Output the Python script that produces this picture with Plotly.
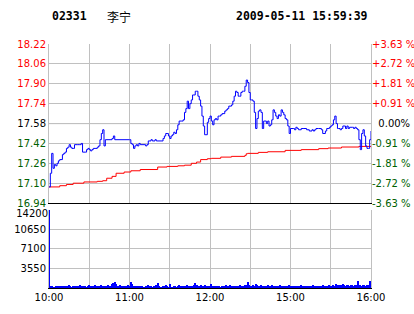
import plotly.graph_objects as go

# ---------------- data ----------------
stock_code = "02331"
stock_name = "李宁"
timestamp = "2009-05-11 15:59:39"
prev_close = 17.58

time_ticks = [0, 30, 60, 90, 120, 150, 180, 210, 240]
time_labels = ["10:00", "", "11:00", "", "12:00", "", "15:00", "", "16:00"]

price_ticks = [18.22, 18.06, 17.90, 17.74, 17.58, 17.42, 17.26, 17.10, 16.94]
price_labels = ["18.22", "18.06", "17.90", "17.74", "17.58", "17.42", "17.26", "17.10", "16.94"]
pct_labels = ["+3.63 %", "+2.72 %", "+1.81 %", "+0.91 %", "\u00a0\u00a00.00%",
              "-0.91 %", "-1.81 %", "-2.72 %", "-3.63 %"]

vol_ticks = [3550, 7100, 10650]
vol_labels = ["3550", "7100", "10650"]
vol_top = 14200
vol_top_label = "14200"

price_min = [0, 1, 2, 3, 4, 5, 6, 7, 8, 10, 11, 12, 13, 14, 15, 16, 17, 18, 19, 21, 23, 24, 25, 27,
             28, 29, 30, 31, 32, 33, 35, 36, 37, 38, 39, 40, 41, 42, 44, 47, 48, 49, 60, 61, 62, 63,
             64, 65, 66, 67, 68, 72, 73, 74, 76, 77, 79, 80, 85, 86, 87, 88, 89, 90, 91, 92, 93, 94,
             95, 96, 97, 99, 100, 101, 102, 103, 104, 105, 106, 107, 108, 109, 110, 111, 112, 113,
             114, 115, 116, 117, 118, 119, 120, 121, 122, 123, 124, 125, 126, 127, 128, 129, 131,
             132, 133, 134, 136, 137, 138, 139, 140, 141, 142, 143, 144, 145, 146, 147, 148, 149,
             150, 151, 152, 153, 154, 155, 156, 157, 158, 159, 160, 161, 162, 163, 164, 165, 166,
             167, 168, 169, 170, 171, 172, 173, 174, 175, 176, 177, 178, 179, 180, 182, 183, 184,
             185, 186, 188, 190, 192, 194, 196, 197, 198, 199, 201, 202, 203, 204, 206, 207, 208,
             209, 210, 211, 212, 213, 214, 215, 216, 217, 218, 219, 221, 222, 223, 224, 226, 227,
             228, 229, 230, 231, 232, 233, 234, 235, 236, 237, 238, 239, 240]
price_val = [17.07, 17.18, 17.34, 17.22, 17.25, 17.24, 17.26, 17.28, 17.29, 17.33, 17.34, 17.35,
             17.38, 17.39, 17.41, 17.39, 17.38, 17.38, 17.41, 17.41, 17.41, 17.42, 17.35, 17.35,
             17.37, 17.38, 17.37, 17.36, 17.37, 17.38, 17.38, 17.39, 17.40, 17.45, 17.50, 17.53,
             17.40, 17.45, 17.45, 17.46, 17.48, 17.45, 17.45, 17.42, 17.41, 17.38, 17.40, 17.41,
             17.40, 17.42, 17.41, 17.40, 17.41, 17.44, 17.45, 17.44, 17.45, 17.44, 17.46, 17.48,
             17.50, 17.50, 17.48, 17.46, 17.48, 17.49, 17.51, 17.50, 17.53, 17.57, 17.60, 17.60,
             17.61, 17.67, 17.70, 17.76, 17.70, 17.74, 17.77, 17.81, 17.81, 17.84, 17.84, 17.80,
             17.77, 17.72, 17.64, 17.56, 17.49, 17.49, 17.59, 17.62, 17.64, 17.60, 17.57, 17.61,
             17.62, 17.61, 17.64, 17.64, 17.65, 17.66, 17.68, 17.69, 17.70, 17.72, 17.73, 17.76,
             17.80, 17.84, 17.83, 17.80, 17.80, 17.83, 17.84, 17.84, 17.88, 17.93, 17.91, 17.83,
             17.77, 17.77, 17.76, 17.67, 17.54, 17.62, 17.68, 17.69, 17.67, 17.54, 17.60, 17.60,
             17.58, 17.60, 17.56, 17.57, 17.61, 17.69, 17.67, 17.64, 17.62, 17.65, 17.64, 17.69,
             17.67, 17.65, 17.62, 17.61, 17.56, 17.50, 17.54, 17.54, 17.53, 17.55, 17.54, 17.53,
             17.54, 17.54, 17.53, 17.52, 17.53, 17.52, 17.53, 17.54, 17.54, 17.54, 17.53, 17.50,
             17.52, 17.54, 17.54, 17.55, 17.56, 17.57, 17.61, 17.64, 17.58, 17.54, 17.54, 17.53,
             17.54, 17.56, 17.54, 17.56, 17.54, 17.55, 17.55, 17.54, 17.55, 17.54, 17.53, 17.45,
             17.37, 17.50, 17.53, 17.48, 17.40, 17.38, 17.38, 17.45, 17.52]

avg_min = [0, 8, 13, 18, 26, 36, 40, 43, 47, 50, 56, 61, 68, 81, 88, 96, 101, 106, 110, 113, 118,
           121, 128, 136, 146, 147, 148, 156, 163, 176, 188, 201, 208, 218, 231, 240]
avg_val = [17.07, 17.08, 17.09, 17.10, 17.11, 17.115, 17.12, 17.14, 17.155, 17.18, 17.19, 17.20,
           17.21, 17.23, 17.235, 17.24, 17.245, 17.26, 17.27, 17.29, 17.297, 17.30, 17.31, 17.316,
           17.324, 17.337, 17.34, 17.348, 17.353, 17.364, 17.37, 17.378, 17.383, 17.391, 17.396,
           17.399]

volume = [14200,
          450, 380, 120, 150, 330, 350, 380, 330, 420, 360, 380, 440, 330, 360, 500, 380, 150, 330, 380, 420,
          350, 360, 500, 380, 330, 420, 380, 150, 360, 560, 380, 420, 350, 500, 380, 360, 430, 380, 560, 450,
          380, 360, 420, 550, 380, 450, 800, 1000, 1050, 700, 400, 380, 550, 360, 300, 450, 380, 350, 600, 400,
          1100, 700, 400, 380, 350, 420, 380, 450, 380, 150, 120, 400, 380, 550, 420, 350, 150, 380, 450, 550,
          950, 420, 150, 120, 380, 420, 500, 350, 150, 700, 180, 150, 420, 380, 150, 350, 500, 380, 420, 350,
          380, 420, 500, 380, 420, 350, 450, 600, 900, 500, 420, 380, 550, 380, 420, 500, 380, 450, 380, 420,
          700, 380, 150, 350, 420, 380, 350, 150, 380, 420, 380, 500, 420, 350, 550, 380, 420, 380, 450, 380,
          420, 500, 380, 420, 350, 550, 600, 1100, 500, 450, 380, 550, 420, 700, 500, 420, 380, 550, 420, 380,
          450, 380, 500, 420, 380, 500, 420, 380, 450, 420, 380, 500, 420, 350, 450, 380, 420, 380, 500, 420,
          450, 380, 420, 350, 450, 420, 380, 500, 420, 380, 350, 420, 380, 450, 420, 380, 500, 420, 380, 450,
          420, 380, 450, 500, 420, 380, 450, 420, 500, 450, 380, 600, 450, 750, 500, 600, 450, 550, 700, 500,
          450, 600, 500, 450, 550, 500, 450, 600, 500, 1350, 600, 500, 450, 600, 550, 450, 500, 600, 1300, 1200]
vol_min = list(range(len(volume)))

# ---------------- style ----------------
RED = "#ff0000"
GREEN = "#006000"
BLACK = "#000000"
BLUE = "#0000ff"
GRID = "#c0c0c0"
FONT = "DejaVu Sans"


def colour_for(v):
    if v > prev_close + 1e-9:
        return RED
    if v < prev_close - 1e-9:
        return GREEN
    return BLACK


left_text = [f'<span style="color:{colour_for(v)}">{t}</span>' for v, t in zip(price_ticks, price_labels)]
right_text = [f'<span style="color:{colour_for(v)}">{t}</span>' for v, t in zip(price_ticks, pct_labels)]

fig = go.Figure()

fig.add_trace(go.Scatter(x=avg_min, y=avg_val, mode="lines", line=dict(color=RED, width=1, shape="hv"),
                         xaxis="x2", yaxis="y", hoverinfo="skip"))
fig.add_trace(go.Scatter(x=price_min, y=price_val, mode="lines", line=dict(color=BLUE, width=1, shape="hv"),
                         xaxis="x2", yaxis="y2", hoverinfo="skip"))
fig.add_trace(go.Bar(x=vol_min, y=volume, marker=dict(color=BLUE, line=dict(width=0)),
                     xaxis="x", yaxis="y3", width=0.75, hoverinfo="skip"))
# empty trace so the overlaying volume label axis is created
fig.add_trace(go.Scatter(x=[], y=[], xaxis="x", yaxis="y4", hoverinfo="skip"))

prange = [price_ticks[-1], price_ticks[0]]

common_x = dict(range=[0, 240], tickmode="array", tickvals=time_ticks, showgrid=True, gridcolor=GRID,
                gridwidth=1, zeroline=False, ticks="", fixedrange=True, automargin=False)

fig.update_layout(
    width=414, height=314, autosize=False,
    margin=dict(l=49, r=43, t=44, b=26, pad=0),
    paper_bgcolor="white", plot_bgcolor="white",
    showlegend=False, bargap=0,
    font=dict(family=FONT, size=10, color=BLACK),
    xaxis=dict(**common_x, anchor="y3", ticktext=time_labels, showline=True, linecolor=BLACK,
               linewidth=1, tickfont=dict(family=FONT, size=10, color=BLACK)),
    xaxis2=dict(**common_x, anchor="y", matches="x", showticklabels=False, showline=True,
                linecolor=BLACK, linewidth=1),
    yaxis=dict(domain=[0.348, 1], anchor="x2", range=prange, tickmode="array", tickvals=price_ticks,
               ticktext=left_text, showgrid=True, gridcolor=GRID, zeroline=False, showline=True,
               linecolor=GRID, mirror=True, ticks="", tickfont=dict(family=FONT, size=10),
               automargin=False),
    yaxis2=dict(overlaying="y", side="right", anchor="x2", range=prange, tickmode="array",
                tickvals=price_ticks, ticktext=right_text, showgrid=False, zeroline=False,
                showline=False, ticks="", tickfont=dict(family=FONT, size=10), automargin=False),
    yaxis3=dict(domain=[0, 0.32], anchor="x", range=[0, vol_top], tickmode="array",
                tickvals=vol_ticks + [vol_top], ticktext=vol_labels + [""], showgrid=True,
                gridcolor=GRID, zeroline=False, showline=True, linecolor=GRID, mirror=True, ticks="",
                tickfont=dict(family=FONT, size=10, color=BLACK), automargin=False),
    yaxis4=dict(overlaying="y3", side="left", anchor="x", range=[0, vol_top], tickmode="array",
                tickvals=[vol_top], ticktext=[vol_top_label], showgrid=False, zeroline=False,
                showline=False, ticks="", ticklabelshift=4,
                tickfont=dict(family=FONT, size=10, color=BLACK), automargin=False),
    shapes=[dict(type="line", xref="x2 domain", yref="y", x0=0, x1=1, y0=prev_close, y1=prev_close,
                 line=dict(color=BLACK, width=1), layer="below")],
    annotations=[
        dict(text=f"<b>{stock_code}</b>", xref="paper", yref="paper", x=0.003, y=1.113,
             xanchor="left", yanchor="middle", showarrow=False,
             font=dict(family="DejaVu Sans Mono", size=11.5, color=BLACK)),
        dict(text=stock_name, xref="paper", yref="paper", x=0.174, y=1.113,
             xanchor="left", yanchor="middle", showarrow=False,
             font=dict(family="Noto Sans CJK SC", size=12, color=BLACK)),
        dict(text=f"<b>{timestamp}</b>", xref="paper", yref="paper", x=0.997, y=1.113,
             xanchor="right", yanchor="middle", showarrow=False,
             font=dict(family="DejaVu Sans Mono", size=11.5, color=BLACK)),
    ],
)

fig.write_html("out.html")
